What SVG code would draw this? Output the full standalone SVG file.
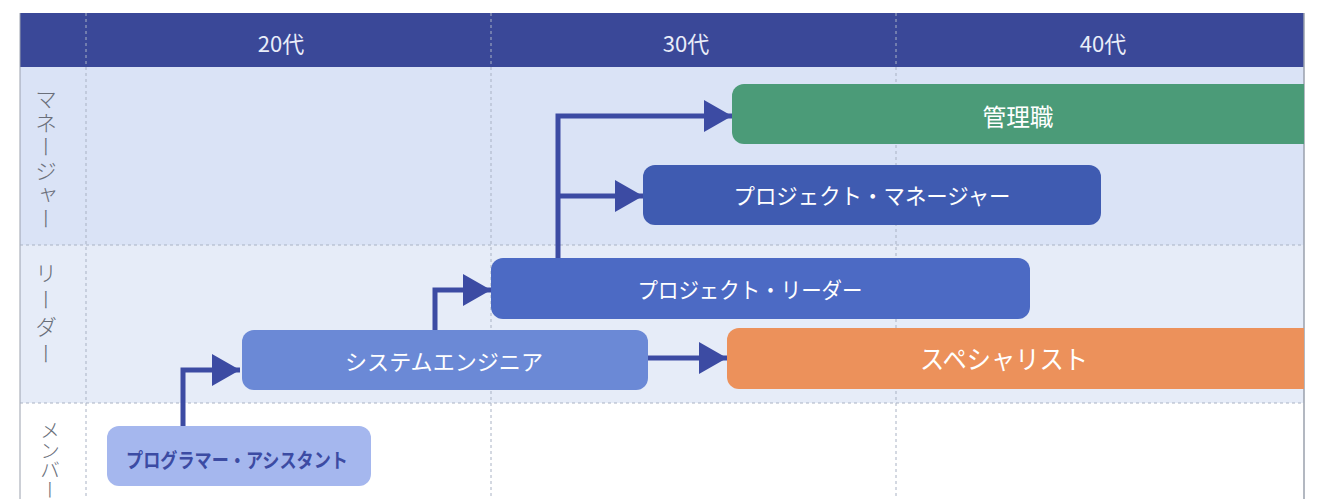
<svg xmlns="http://www.w3.org/2000/svg" width="1326" height="499" viewBox="0 0 1326 499">
<defs>
<style>
.hdr{font-family:"Noto Sans CJK JP","Noto Sans",sans-serif;font-size:22px;fill:#e9edf9;text-anchor:middle}
.row{font-family:"Noto Sans CJK JP",sans-serif;font-size:22px;font-weight:300;fill:#6a6f7a;writing-mode:vertical-rl}
.nt{font-family:"Noto Sans CJK JP",sans-serif;font-size:22px;fill:#ffffff;text-anchor:middle}
.grid{stroke:#a9b2c4;stroke-width:1;stroke-dasharray:3 3;fill:none}
.conn{stroke:#3c4ba3;stroke-width:5;fill:none}
</style>
<marker id="ah" markerUnits="userSpaceOnUse" markerWidth="30" markerHeight="32" refX="28" refY="16" orient="auto">
<path d="M0,0 L28,16 L0,32 Z" fill="#3c4ba3"/>
</marker>
</defs>
<rect width="1326" height="499" fill="#ffffff"/>
<g id="table">
<rect x="20" y="67" width="1284" height="178" fill="#dae3f6"/>
<rect x="20" y="245" width="1284" height="158" fill="#e6ecf8"/>
<rect x="20" y="403" width="1284" height="96" fill="#ffffff"/>
<rect x="20" y="13" width="1284" height="54" fill="#3a4898"/>
<line x1="20" y1="13" x2="20" y2="499" stroke="#9aa0ad" stroke-width="1"/>
<line x1="1304" y1="13" x2="1304" y2="499" stroke="#9aa0ad" stroke-width="1.5"/>
<line class="grid" x1="20" y1="245" x2="1304" y2="245"/>
<line class="grid" x1="20" y1="403" x2="1304" y2="403"/>
<line class="grid" x1="86" y1="13" x2="86" y2="499"/>
<line class="grid" x1="491" y1="13" x2="491" y2="499"/>
<line class="grid" x1="896" y1="13" x2="896" y2="499"/>
<text class="hdr" x="281" y="52">20代</text>
<text class="hdr" x="686" y="52">30代</text>
<text class="hdr" x="1103" y="52">40代</text>
<text class="row" x="46" y="88" letter-spacing="2">マネージャー</text>
<text class="row" x="46" y="262" letter-spacing="5">リーダー</text>
<text class="row" x="50" y="420" style="font-size:20px">メンバー</text>
</g>
<g id="connectors">
<path class="conn" d="M183,426 V370 H240" marker-end="url(#ah)"/>
<path class="conn" d="M435,330 V290 H491" marker-end="url(#ah)"/>
<path class="conn" d="M558,258 V116 H732" marker-end="url(#ah)"/>
<path class="conn" d="M558,196 H643" marker-end="url(#ah)"/>
<path class="conn" d="M648,358 H727" marker-end="url(#ah)"/>
</g>
<g id="node-kanri">
<path d="M744,84 H1304 V144 H744 A12,12 0 0 1 732,132 V96 A12,12 0 0 1 744,84 Z" fill="#4b9b78"/>
<text class="nt" x="1018" y="126" style="font-size:24px" textLength="71" lengthAdjust="spacingAndGlyphs">管理職</text>
</g>
<g id="node-pm">
<rect x="643" y="165" width="458" height="60" rx="12" fill="#3f5bb1"/>
<text class="nt" x="872" y="204" textLength="277" lengthAdjust="spacingAndGlyphs">プロジェクト・マネージャー</text>
</g>
<g id="node-pl">
<rect x="491" y="258" width="539" height="61" rx="12" fill="#4c6ac4"/>
<text class="nt" x="750" y="298" textLength="225" lengthAdjust="spacingAndGlyphs">プロジェクト・リーダー</text>
</g>
<g id="node-se">
<rect x="242" y="330" width="406" height="60" rx="12" fill="#6b89d6"/>
<text class="nt" x="444" y="370" textLength="198" lengthAdjust="spacingAndGlyphs">システムエンジニア</text>
</g>
<g id="node-sp">
<path d="M739,328 H1304 V389 H739 A12,12 0 0 1 727,377 V340 A12,12 0 0 1 739,328 Z" fill="#ec915b"/>
<text class="nt" x="1004" y="369" style="font-size:26px" textLength="168" lengthAdjust="spacingAndGlyphs">スペシャリスト</text>
</g>
<g id="node-pa">
<rect x="107" y="426" width="264" height="60" rx="12" fill="#a5b7ee"/>
<text class="nt" x="237" y="468" style="font-size:20px;font-weight:700;fill:#3c4ba3" textLength="222" lengthAdjust="spacingAndGlyphs">プログラマー・アシスタント</text>
</g>
</svg>
